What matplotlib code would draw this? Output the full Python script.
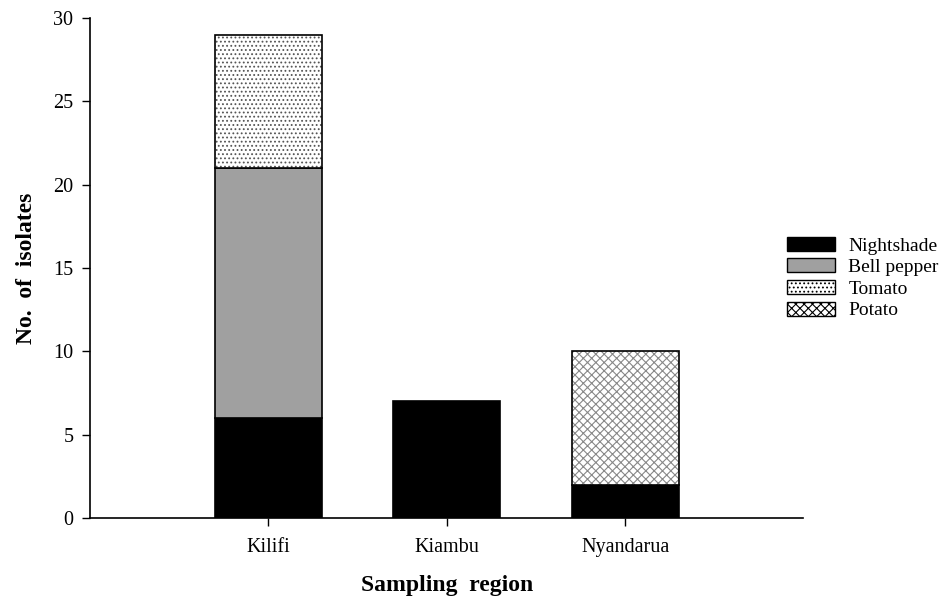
import numpy as np
import matplotlib
matplotlib.use("Agg")
import matplotlib.pyplot as plt
from matplotlib.patches import Patch

plt.rcParams['font.family'] = ['Liberation Serif', 'DejaVu Serif']
plt.rcParams['hatch.linewidth'] = 0.8

regions = ["Kilifi", "Kiambu", "Nyandarua"]
hosts = ["Nightshade", "Bell pepper", "Tomato", "Potato"]
nightshade = [6, 7, 2]
bell_pepper = [15, 0, 0]
tomato = [8, 0, 0]
potato = [0, 0, 8]

counts = [nightshade, bell_pepper, tomato, potato]
faces = ["black", "#a0a0a0", "white", "white"]
hatches = [None, None, "....", "xxxx"]
hatch_cols = ["black", "black", "#555555", "#888888"]

fig = plt.figure(figsize=(9.45, 6.01), dpi=100)
ax = fig.add_axes([0.0952, 0.138, 0.755, 0.832])

x = np.arange(len(regions))
bottom = np.zeros(len(regions))
for vals, fc, h, hc in zip(counts, faces, hatches, hatch_cols):
    vals = np.array(vals, dtype=float)
    mask = vals > 0
    if h:
        # hatch drawn in grey, outline added on top in black
        ax.bar(x[mask], vals[mask], 0.6, bottom=bottom[mask], color=fc,
               hatch=h, edgecolor=hc, linewidth=0)
        ax.bar(x[mask], vals[mask], 0.6, bottom=bottom[mask], fill=False,
               edgecolor="black", linewidth=1.2)
    else:
        ax.bar(x[mask], vals[mask], 0.6, bottom=bottom[mask], color=fc,
               edgecolor="black", linewidth=1.2)
    bottom += vals

ax.set_xlim(-1, 3)
ax.set_ylim(0, 30)
ax.set_yticks(range(0, 31, 5))
ax.set_xticks(x)
ax.set_xticklabels(regions)
ax.tick_params(direction="out", length=6, width=1, labelsize=14.5)
ax.tick_params(axis="x", pad=8)
ax.tick_params(axis="y", pad=6)
for s in ["top", "right"]:
    ax.spines[s].set_visible(False)
for s in ["left", "bottom"]:
    ax.spines[s].set_linewidth(1.2)

ax.set_xlabel("Sampling  region", fontsize=17, fontweight="bold", labelpad=13)
ax.set_ylabel("No.  of  isolates", fontsize=17, fontweight="bold", labelpad=12)

handles = []
for name, fc, h, hc in zip(hosts, faces, hatches, hatch_cols):
    handles.append(Patch(facecolor=fc, edgecolor="black", hatch=h, label=name,
                         linewidth=1))
leg = fig.legend(handles=handles, loc="upper left", bbox_to_anchor=(0.833, 0.606),
                 frameon=False, fontsize=14, handlelength=2.45, handleheight=0.72,
                 labelspacing=0.2, handletextpad=0.7, borderpad=0,
                 borderaxespad=0)

fig.savefig("out.png", dpi=100)
